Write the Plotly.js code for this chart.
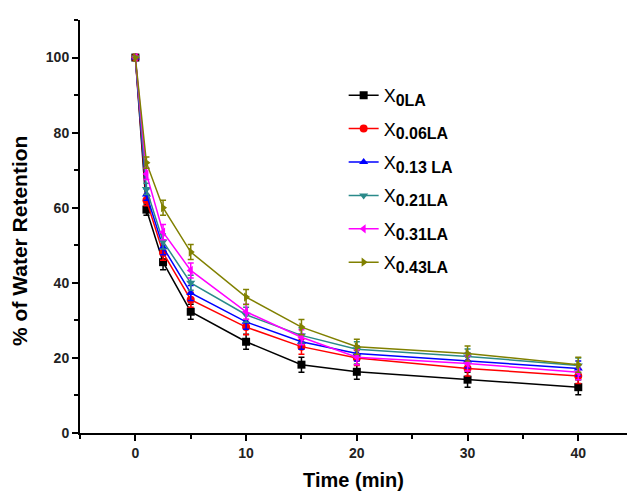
<!DOCTYPE html>
<html>
<head>
<meta charset="utf-8">
<script src="https://cdn.plot.ly/plotly-3.0.1.min.js"></script>
<style>html,body{margin:0;padding:0;background:#fff;}#chart{width:627px;height:492px;}</style>
</head>
<body>
<div id="chart"></div>
<script>
const time = [0, 1, 2.5, 5, 10, 15, 20, 30, 40];
const seriesSubs = ["0LA", "0.06LA", "0.13 LA", "0.21LA", "0.31LA", "0.43LA"];
const x0LA    = [100, 59.5, 45.5, 32.3, 24.3, 18.2, 16.3, 14.2, 12.2];
const x006LA  = [100, 62, 48, 35.5, 28.2, 23, 20, 17.2, 15.2];
const x013LA  = [100, 63.5, 49.5, 37.3, 29.6, 24.3, 21.2, 19.3, 17.2];
const x021LA  = [100, 65, 51, 40, 31.5, 26, 22.3, 20.4, 18];
const x031LA  = [100, 69, 53.5, 43.3, 32.3, 25.5, 20.2, 18.5, 16.2];
const x043LA  = [100, 72, 60, 48.2, 36.2, 28.2, 23, 21.2, 18.2];
const err0LA   = [0, 1.5, 2, 2, 2, 2, 2, 2, 2];
const err006LA = [0, 1.5, 2, 2, 2, 2, 2, 2, 2];
const err013LA = [0, 1.5, 2, 2, 2, 2, 2, 2, 2];
const err021LA = [0, 1.5, 2, 2, 2, 2, 2, 2, 2];
const err031LA = [0, 1.5, 2, 2, 2, 2, 2, 2, 2];
const err043LA = [0, 1.5, 2, 2, 2, 2, 2, 2, 2];

const yVals = [x0LA, x006LA, x013LA, x021LA, x031LA, x043LA];
const errs = [err0LA, err006LA, err013LA, err021LA, err031LA, err043LA];
const colors = ["#000000", "#ff0000", "#0000ff", "#2a8a8a", "#ff00ff", "#808000"];
const symbols = ["square", "circle", "triangle-up", "triangle-down", "triangle-left", "triangle-right"];

const traces = yVals.map((y, i) => ({
  x: time, y: y, type: "scatter", mode: "lines+markers",
  name: "X<sub><span style=\"font-size:16px;font-weight:bold\">" + seriesSubs[i] + "</span></sub>",
  legendgroup: "g" + i,
  line: {color: colors[i], width: 1.5},
  marker: {color: colors[i], symbol: symbols[i], size: 8},
  error_y: {type: "data", array: errs[i], visible: true, color: colors[i], thickness: 1.5, width: 3}
}));

const font = "Liberation Sans, Arial, sans-serif";
const layout = {
  width: 627, height: 492,
  margin: {l: 80, r: 0, t: 20, b: 59},
  paper_bgcolor: "#fff", plot_bgcolor: "#fff",
  showlegend: true,
  legend: {x: 0.482, y: 0.862, xanchor: "left", yanchor: "top", bgcolor: "rgba(0,0,0,0)",
           font: {family: font, size: 18, color: "#000"}, tracegroupgap: 7},
  xaxis: {
    range: [-5, 44.4], tick0: 0, dtick: 10, ticks: "outside", ticklen: 6, tickwidth: 2, tickcolor: "#000",
    minor: {dtick: 5, tick0: 0, ticks: "outside", ticklen: 4, tickwidth: 2, tickcolor: "#000"},
    showline: true, linewidth: 2, linecolor: "#000", showgrid: false, zeroline: false,
    tickfont: {family: font, size: 14, color: "#222", weight: "bold"},
    title: {text: "Time (min)", font: {family: font, size: 20, color: "#000", weight: "bold"}, standoff: 13}
  },
  yaxis: {
    range: [0, 110], tickvals: [0, 20, 40, 60, 80, 100], ticks: "outside", ticklen: 6, tickwidth: 2, tickcolor: "#000",
    minor: {dtick: 10, tick0: 0, ticks: "outside", ticklen: 4, tickwidth: 2, tickcolor: "#000"},
    showline: true, linewidth: 2, linecolor: "#000", showgrid: false, zeroline: false,
    tickfont: {family: font, size: 14, color: "#222", weight: "bold"}
  },
  annotations: [{
    text: "% of Water Retention", textangle: -90, showarrow: false,
    xref: "paper", yref: "paper", x: 0, y: 0.465, xanchor: "center", yanchor: "middle", xshift: -60,
    font: {family: font, size: 21, color: "#000", weight: "bold"}
  }]
};
Plotly.newPlot("chart", traces, layout, {displayModeBar: false, staticPlot: true});
</script>
</body>
</html>
